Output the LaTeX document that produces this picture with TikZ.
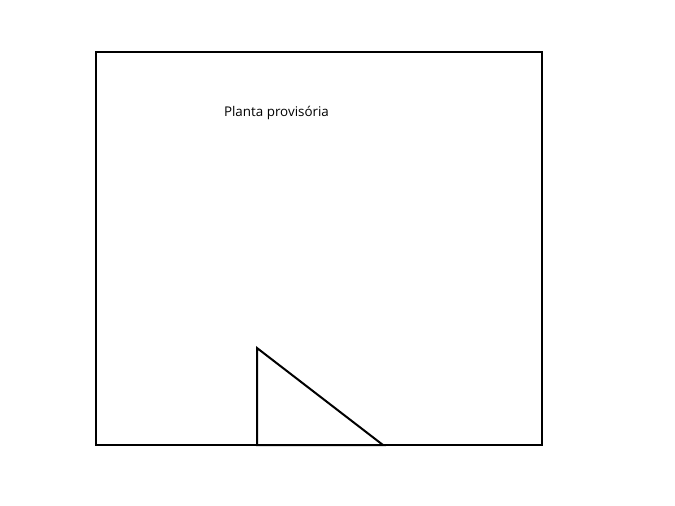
\documentclass[tikz,border=0pt]{standalone}
\usepackage{fontspec}
\setmainfont{Open Sans}
\begin{document}
\begin{tikzpicture}[x=1pt,y=-1pt,line width=2pt,
  edge/.style={draw=black,line join=miter}]
\useasboundingbox (0,0) rectangle (675,506);
\coordinate (tl) at (96,52);
\coordinate (br) at (542,445);
\draw[edge] (tl) rectangle (br);
\coordinate (ta) at (257,348);
\coordinate (tb) at (257,445);
\coordinate (tc) at (383,445);
\draw[edge] (ta) -- (tb) -- (tc) -- cycle;
\node[anchor=west,inner sep=0pt,font=\fontsize{13.4}{16}\selectfont] (lbl) at (223,113) {Planta provisória};
\end{tikzpicture}
\end{document}
